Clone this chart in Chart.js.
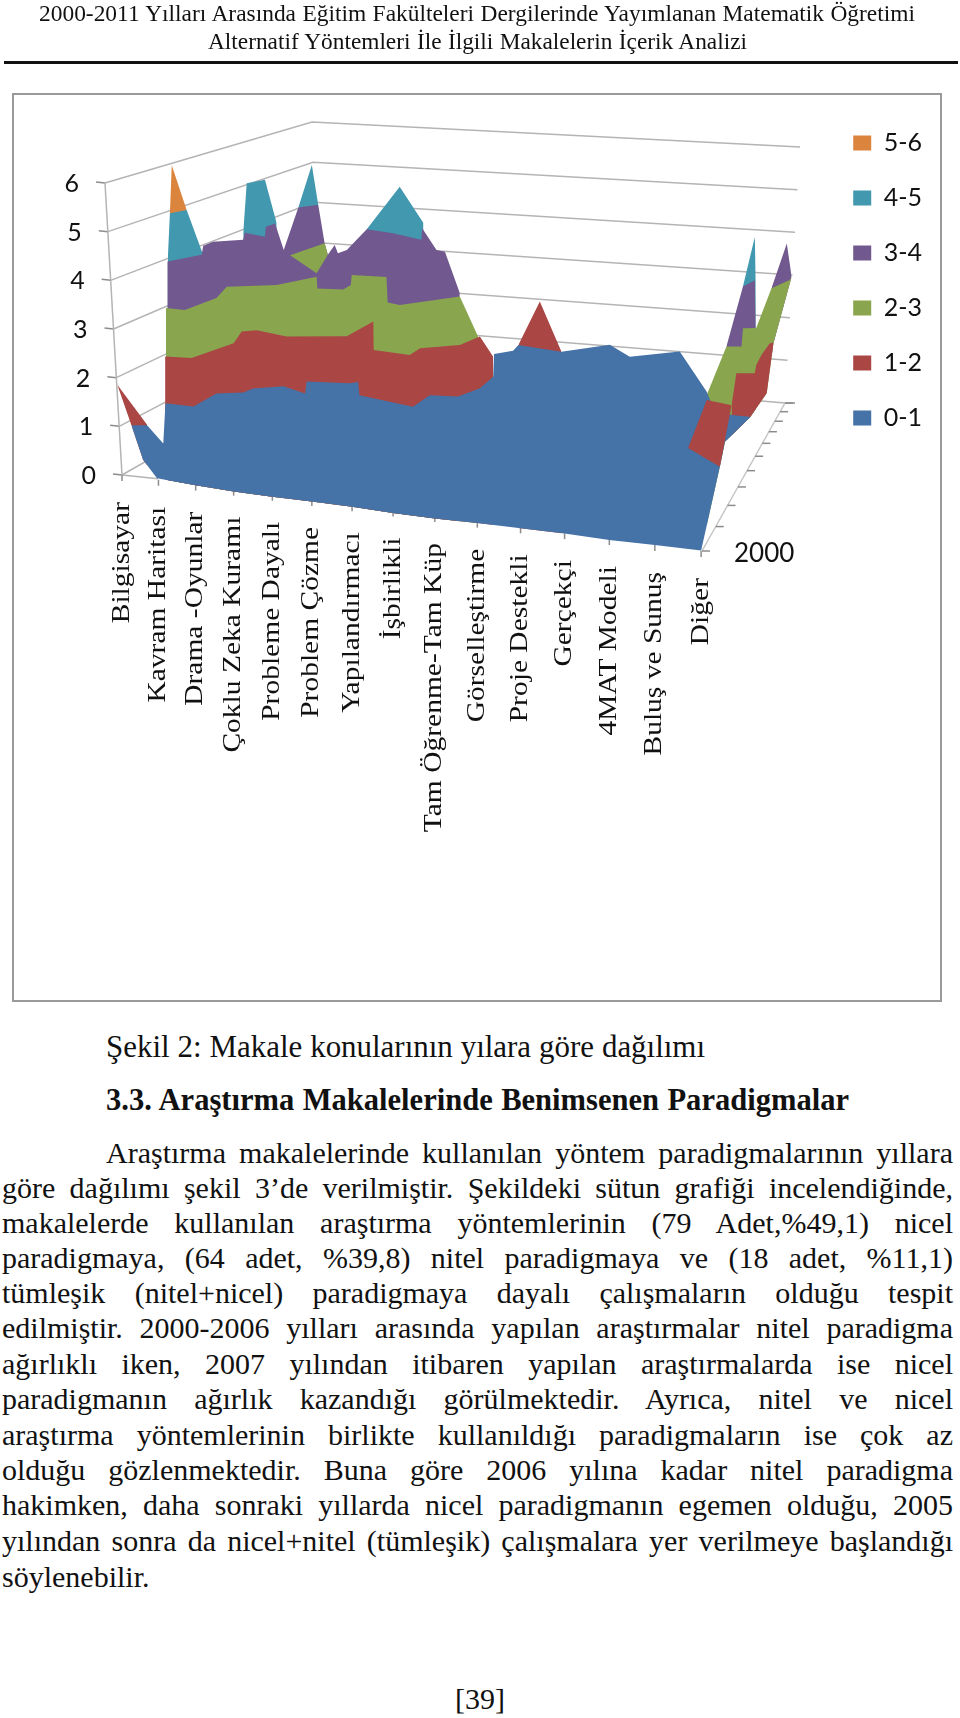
<!DOCTYPE html>
<html lang="tr">
<head>
<meta charset="utf-8">
<title>Şekil 2</title>
<script src="https://cdn.jsdelivr.net/npm/chart.js@4"></script>
<style>
  html, body { margin: 0; padding: 0; background: #fff; }
  #page { position: relative; width: 960px; height: 1718px; overflow: hidden; font-family: "Liberation Serif", serif; color: #111; }
  #myChart { position: absolute; left: 0; top: 0; }
  #frame { position: absolute; left: 12px; top: 93px; width: 926px; height: 905px; border: 2px solid #9a9a9a; }
  #rule { position: absolute; left: 4px; top: 61px; width: 954px; height: 3px; background: #111; }
  .ln { position: absolute; font-size: 30px; line-height: 30px; height: 30px; text-align: justify; text-align-last: justify; }
  .free { text-align: left; text-align-last: left; white-space: nowrap; }
</style>
</head>
<body>
<div id="page">
  <div id="frame"></div>
  <canvas id="myChart" width="960" height="1010"></canvas>
  <div id="rule"></div>
  <div class="ln fit" style="left:39px;width:876px;top:-2px">2000-2011 Yılları Arasında Eğitim Fakülteleri Dergilerinde Yayımlanan Matematik Öğretimi</div>
  <div class="ln fit" style="left:208px;width:539px;top:26px">Alternatif Yöntemleri İle İlgili Makalelerin İçerik Analizi</div>
  <div class="ln fit" style="left:106px;width:599px;top:1032px">Şekil 2: Makale konularının yılara göre dağılımı</div>
  <div class="ln fit" style="left:106px;width:743px;top:1085px;font-weight:bold">3.3. Araştırma Makalelerinde Benimsenen Paradigmalar</div>
  <div class="ln" style="left:106px;width:847px;top:1138px">Araştırma makalelerinde kullanılan yöntem paradigmalarının yıllara</div>
  <div class="ln" style="left:2px;width:951px;top:1173px">göre dağılımı şekil 3’de verilmiştir. Şekildeki sütun grafiği incelendiğinde,</div>
  <div class="ln" style="left:2px;width:951px;top:1208px">makalelerde kullanılan araştırma yöntemlerinin (79 Adet,%49,1) nicel</div>
  <div class="ln" style="left:2px;width:951px;top:1243px">paradigmaya, (64 adet, %39,8) nitel paradigmaya ve (18 adet, %11,1)</div>
  <div class="ln" style="left:2px;width:951px;top:1278px">tümleşik (nitel+nicel) paradigmaya dayalı çalışmaların olduğu tespit</div>
  <div class="ln" style="left:2px;width:951px;top:1313px">edilmiştir. 2000-2006 yılları arasında yapılan araştırmalar nitel paradigma</div>
  <div class="ln" style="left:2px;width:951px;top:1349px">ağırlıklı iken, 2007 yılından itibaren yapılan araştırmalarda ise nicel</div>
  <div class="ln" style="left:2px;width:951px;top:1384px">paradigmanın ağırlık kazandığı görülmektedir. Ayrıca, nitel ve nicel</div>
  <div class="ln" style="left:2px;width:951px;top:1420px">araştırma yöntemlerinin birlikte kullanıldığı paradigmaların ise çok az</div>
  <div class="ln" style="left:2px;width:951px;top:1455px">olduğu gözlenmektedir. Buna göre 2006 yılına kadar nitel paradigma</div>
  <div class="ln" style="left:2px;width:951px;top:1490px">hakimken, daha sonraki yıllarda nicel paradigmanın egemen olduğu, 2005</div>
  <div class="ln" style="left:2px;width:951px;top:1526px">yılından sonra da nicel+nitel (tümleşik) çalışmalara yer verilmeye başlandığı</div>
  <div class="ln free" style="left:2px;top:1562px">söylenebilir.</div>
  <div class="ln free" style="left:455px;top:1684px">[39]</div>
</div>

<script>
var categories = ["Bilgisayar", "Kavram Haritası", "Drama -Oyunlar", "Çoklu Zeka Kuramı", "Probleme Dayalı",
  "Problem Çözme", "Yapılandırmacı", "İşbirlikli", "Tam Öğrenme-Tam Küp", "Görselleştirme", "Proje Destekli",
  "Gerçekçi", "4MAT Modeli", "Buluş ve Sunuş", "Diğer"];
var valueTicks = [0, 1, 2, 3, 4, 5, 6];
var firstYear = "2000";
var yearCount = 12;

// outlines: position = fractional category index, value = axis units, null = gap
var pos01 = [0.27, 0.69, 1.13, 1.19, 1.94, 2.55, 3.25, 3.51, 4.28, 4.83, 4.87, 5.95, 6.15, 6.18, 7.48, 7.88, 8.55, 9.06, 9.37, 9.39, 9.83, 9.95, 10.93, 12.01, 12.45, 13.54, 14.12, 14.26, 14.65, 15.04];
var val01 = [1.05, 1.09, 0.76, 1.59, 1.60, 1.93, 2.02, 2.13, 2.26, 2.17, 2.42, 2.50, 2.55, 2.28, 2.19, 2.47, 2.52, 2.75, 3.02, 3.49, 3.61, 3.74, 3.72, 3.99, 3.80, 4.04, 3.29, 2.97, 2.88, 2.89];

var pos12 = [-0.13, 0.69, null, 1.18, 1.89, 3, 3.21, 3.6, 4.36, 5.87, 6.52, 6.53, 7.4, 7.65, 8.59, 9.06, 9.37, null, 9.95, 10.44, 10.93, null, 14.65, 14.75, 15.14, 15.17, 15.28, 15.45, 15.53];
var val12 = [1.84, 1.10, null, 2.55, 2.59, 3.01, 3.27, 3.34, 3.29, 3.46, 3.83, 3.25, 3.24, 3.41, 3.58, 3.81, 3.43, null, 3.74, 4.69, 3.72, null, 3.08, 3.75, 3.80, 3.97, 4.19, 4.45, 4.48];

var pos23 = [1.2, 1.71, 2.55, 2.82, 4.11, 5.12, 5.14, 5.78, 5.97, 5.99, 6.84, 6.87, 7.16, 8.59, 9.02, null, 14.12, 14.54, 14.86, 14.89, 15.17, 15.49, 15.87, 15.91];
var val23 = [3.55, 3.56, 3.89, 4.15, 4.32, 4.60, 4.36, 4.41, 4.52, 4.73, 4.78, 4.26, 4.24, 4.58, 3.80, null, 3.22, 4.27, 4.31, 4.69, 4.73, 5.59, 5.81, 5.88];

var pos34 = [1.24, 2.16, 2.2, 2.46, 3.25, 3.29, 3.81, 3.83, 4.07, 4.29, 4.66, 5.16, 5.32, 5.4, 5.57, 5.65, 5.87, 6.36, 7, 7.68, 7.7, 8.04, 8.24, 8.59, null, 14.54, 14.89, 15.14, 15.16, null, 15.49, 15.81, 15.91];
var val34 = [4.51, 4.74, 4.93, 5.04, 5.16, 5.31, 5.28, 5.49, 5.58, 5.06, 5.97, 6.08, 5.31, 5.08, 5.30, 5.14, 5.23, 5.71, 5.70, 5.64, 5.88, 5.47, 5.46, 4.65, null, 4.27, 5.55, 5.71, 4.72, null, 5.59, 6.55, 5.88];

var pos45 = [1.25, 1.31, 1.76, 2.2, null, 3.25, 3.34, 3.81, 4.11, null, 4.66, 5, 5.16, null, 6.36, 7.16, 7.73, null, 14.89, 15.14, 15.16];
var val45 = [4.51, 5.51, 5.62, 4.74, null, 5.31, 6.33, 6.45, 5.59, null, 5.97, 6.88, 6.08, null, 5.71, 6.67, 5.99, null, 5.55, 6.60, 5.72];

var pos56 = [1.31, 1.36, 1.76];
var val56 = [5.51, 6.50, 5.62];

// pieces of a lower band that lie in front of the higher ones
var posFront12 = [13.72, 14.12, 14.65];
var valFront12 = [2.08, 3.12, 3.08];
var posFront23 = [4.45, 5.32, 5.4];
var valFront23 = [4.97, 5.31, 5.08];
var posFrontBase = [4.45, 5.12, 5.4, null, 13.72, 14.4, 14.65];
var valFrontBase = [4.97, 4.67, 5.08, null, 2.08, 1.78, 3.08];

// lower edge of the whole surface
var posFloor = [-0.13, 0.27, 0.58, 0.96, 2, 3, 4, 5, 6, 7, 8, 9, 10, 11, 12, 13, 14, 14.4, 14.51, 15.04, 15.39, 15.53, 15.91];
var valFloor = [1.84, 1.03, 0.37, 0.03, -0.01, -0.04, -0.04, -0.03, -0.03, -0.05, -0.05, -0.03, -0.02, -0.01, -0.02, 0, 0.01, 1.78, 2.31, 2.88, 3.42, 4.46, 5.88];

function pairUp(pos, val) {
  return pos.map(function (p, i) {
    return { x: p === null ? pos[i - 1] : p, y: val[i] };
  });
}

// page text: headings are sized to their width, body lines only shrink if they would wrap
var measure = document.createElement("canvas").getContext("2d");
document.querySelectorAll(".ln").forEach(function (el) {
  if (el.classList.contains("free")) return;
  var style = getComputedStyle(el);
  var size = parseFloat(style.fontSize);
  measure.font = style.fontWeight + " " + size + "px 'Liberation Serif'";
  var natural = measure.measureText(el.textContent).width;
  var box = parseFloat(el.style.width);
  if (el.classList.contains("fit") || natural > box - 1) {
    el.style.fontSize = (size * (box - 1)) / natural + "px";
  }
});

// x axis of the 3D view: categories get wider towards the viewer
class PerspectiveScale extends Chart.LinearScale {
  getPixelForValue(v) {
    return v === null ? NaN : 122 + 36.08 * v + 0.3776 * v * v;
  }
}
PerspectiveScale.id = "perspective";
PerspectiveScale.defaults = Chart.LinearScale.defaults;
Chart.register(PerspectiveScale);

var SKEW = 0.1313; // slope of the front edge of the floor

function baseY(chart, x) {
  return chart.scales.y.getPixelForValue(0) + SKEW * (x - 122);
}

function drawLine(ctx, pts, color, width) {
  ctx.strokeStyle = color;
  ctx.lineWidth = width;
  ctx.beginPath();
  pts.forEach(function (p, i) {
    if (i === 0) ctx.moveTo(p[0], p[1]);
    else ctx.lineTo(p[0], p[1]);
  });
  ctx.stroke();
}

var walls = {
  id: "walls",
  beforeDatasetsDraw: function (chart) {
    var ctx = chart.ctx;
    var y = chart.scales.y;
    var x = chart.scales.x;
    var grid = "#b4b4b4";

    // back and side walls, one line per value tick
    valueTicks.forEach(function (v) {
      var f = v / 6;
      var left = [122 - 17 * f, y.getPixelForValue(v)];
      var corner = [318 - 6 * f, 363 - 241 * f];
      var right = [785 + 15 * f, 403 - 256 * f];
      drawLine(ctx, [left, corner, right], grid, 1.5);
      drawLine(ctx, [[left[0] - 9, left[1] - 1], left], "#8c8c8c", 1.5);
      ctx.fillStyle = "#111";
      ctx.font = "25px Lato";
      ctx.textAlign = "right";
      ctx.textBaseline = "middle";
      ctx.fillText(String(v), left[0] - 26, left[1] + 1);
    });
    drawLine(ctx, [[122, y.getPixelForValue(0)], [105, y.getPixelForValue(6)]], grid, 1.5);
    drawLine(ctx, [[122, y.getPixelForValue(0)], [158, baseY(chart, 158) - 1]], grid, 1.5);

    // depth axis on the right
    var a = [702, 551];
    var b = [785, 403];
    drawLine(ctx, [a, b], "#c4c4c4", 1.5);
    drawLine(ctx, [b, [795, 403]], "#8c8c8c", 1.5);
    for (var n = 0; n < yearCount - 1; n++) {
      var p = n / (yearCount - 2);
      var t = (1.78 * p) / (1 + 0.78 * p);
      var tx = a[0] + (b[0] - a[0]) * t;
      var ty = a[1] + (b[1] - a[1]) * t;
      drawLine(ctx, [[tx, ty], [tx + 8, ty]], "#8c8c8c", 1.5);
    }
    ctx.fillStyle = "#111";
    ctx.font = "26px Lato";
    ctx.textAlign = "left";
    ctx.textBaseline = "middle";
    ctx.fillText(firstYear, 734, 554);

    // category ticks and labels hang from the slanted front edge
    categories.forEach(function (name, i) {
      var px = x.getPixelForValue(i);
      var py = baseY(chart, px);
      drawLine(ctx, [[px, py], [px, py + 6]], "#8c8c8c", 1.5);
      ctx.save();
      ctx.translate(px, py + 27);
      ctx.rotate(-Math.PI / 2);
      ctx.scale(1.18, 1);
      ctx.fillStyle = "#111";
      ctx.font = "25px 'Liberation Serif'";
      ctx.textAlign = "right";
      ctx.textBaseline = "middle";
      ctx.fillText(name, 0, 0);
      ctx.restore();
    });

    // the surface itself is drawn sheared along the same edge
    ctx.save();
    ctx.transform(1, SKEW, 0, 1, 0, -SKEW * 122);
  },
  afterDatasetsDraw: function (chart) {
    chart.ctx.restore();
  }
};

function band(label, pos, val, color, target) {
  return {
    label: label,
    data: pairUp(pos, val),
    backgroundColor: color,
    borderColor: color,
    borderWidth: 0,
    pointRadius: 0,
    tension: 0,
    spanGaps: false,
    clip: false,
    fill: target
  };
}

var FLOOR = 8;
var FRONT_BASE = 9;

var ctx = document.getElementById("myChart").getContext("2d");
window.myChart = new Chart(ctx, {
  type: "line",
  data: {
    datasets: [
      band("", posFront12, valFront12, "#AA4643", FRONT_BASE),
      band("", posFront23, valFront23, "#89A54E", FRONT_BASE),
      band("0-1", pos01, val01, "#4572A7", FLOOR),
      band("1-2", pos12, val12, "#AA4643", FLOOR),
      band("2-3", pos23, val23, "#89A54E", FLOOR),
      band("3-4", pos34, val34, "#71588F", FLOOR),
      band("4-5", pos45, val45, "#4198AF", FLOOR),
      band("5-6", pos56, val56, "#DB843D", FLOOR),
      band("", posFloor, valFloor, "rgba(0,0,0,0)", false),
      band("", posFrontBase, valFrontBase, "rgba(0,0,0,0)", false)
    ]
  },
  options: {
    responsive: false,
    animation: false,
    events: [],
    layout: { padding: { top: 100.5, left: 100, right: 28, bottom: 486.33 } },
    scales: {
      x: { type: "perspective", min: -1, max: 17, display: false },
      y: { min: -1, max: 7.695, display: false, ticks: { stepSize: 1 } }
    },
    plugins: {
      tooltip: { enabled: false },
      legend: {
        position: "right",
        align: "start",
        reverse: true,
        labels: {
          boxWidth: 18,
          boxHeight: 15,
          padding: 30,
          color: "#111",
          font: { family: "Lato", size: 25 },
          filter: function (item) {
            return item.text !== "";
          }
        }
      }
    }
  },
  plugins: [walls]
});
</script>
</body>
</html>
